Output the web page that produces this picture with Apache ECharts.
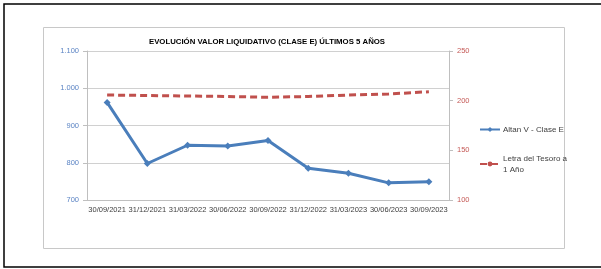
<!DOCTYPE html>
<html><head><meta charset="utf-8">
<script src="https://cdn.jsdelivr.net/npm/echarts@6/dist/echarts.min.js"></script>
<style>html,body{margin:0;padding:0;background:#fff}#c{width:601px;height:269px}</style>
</head><body><div id="c"></div>
<script>
const categories = ['30/09/2021','31/12/2021','31/03/2022','30/06/2022','30/09/2022','31/12/2022','31/03/2023','30/06/2023','30/09/2023'];
const altanValues = [962, 798, 847, 845, 860, 785, 772, 746, 749];
const letraValues = [205.7, 205.2, 204.7, 204.2, 203.4, 204.2, 205.7, 206.7, 209];
const leftTicks = [700, 1100, 100];
const rightTicks = [100, 250, 50];
const seriesNames = ['Altan V - Clase E', 'Letra del Tesoro a\n1 Año'];
const titleText = 'EVOLUCIÓN VALOR LIQUIDATIVO (CLASE E) ÚLTIMOS 5 AÑOS';

const chart = echarts.init(document.getElementById('c'), null, {renderer: 'canvas'});
const F = 'Liberation Sans, Arial, sans-serif';
chart.setOption({
  animation: false,
  title: {text: titleText, left: 262, top: 33, textAlign: 'center',
    textStyle: {fontFamily: F, fontSize: 7.8, fontWeight: 'bold', color: '#000'}},
  graphic: [
    {type: 'rect', shape: {x: 4, y: 4, width: 600, height: 263}, style: {fill: 'none', stroke: '#000', lineWidth: 1.5}, z: -1},
    {type: 'rect', shape: {x: 43.5, y: 27.5, width: 521, height: 221}, style: {fill: 'none', stroke: '#c8c8c8', lineWidth: 1}, z: -1}
  ],
  grid: {left: 87, right: 152, top: 51, bottom: 69},
  legend: {
    orient: 'vertical', left: 479, top: 124, padding: 0, itemGap: 18, itemWidth: 20, itemHeight: 6,
    textStyle: {fontFamily: F, fontSize: 8, color: '#404040', lineHeight: 11, padding: [0, 0, 0, -2]},
    data: seriesNames
  },
  xAxis: {
    type: 'category', data: categories, boundaryGap: true,
    axisLine: {lineStyle: {color: '#bfbfbf'}},
    axisTick: {alignWithLabel: true, length: 4, lineStyle: {color: '#bfbfbf'}},
    axisLabel: {fontFamily: F, fontSize: 7.5, color: '#404040', margin: 6, interval: 0}
  },
  yAxis: [
    {type: 'value', min: leftTicks[0], max: leftTicks[1], interval: leftTicks[2],
     axisLine: {show: true, lineStyle: {color: '#bfbfbf'}},
     axisTick: {show: true, length: 4, lineStyle: {color: '#bfbfbf'}},
     splitLine: {lineStyle: {color: '#d0d0d0'}},
     axisLabel: {fontFamily: F, fontSize: 7.5, color: '#5b84c4', margin: 8,
       formatter: v => v >= 1000 ? (Math.floor(v/1000) + '.' + String(v % 1000).padStart(3,'0')) : String(v)}},
    {type: 'value', min: rightTicks[0], max: rightTicks[1], interval: rightTicks[2], position: 'right',
     axisLine: {show: true, lineStyle: {color: '#bfbfbf'}},
     axisTick: {show: true, length: 4, lineStyle: {color: '#bfbfbf'}},
     splitLine: {show: false},
     axisLabel: {fontFamily: F, fontSize: 7.5, color: '#c55a57', margin: 8}}
  ],
  series: [
    {name: seriesNames[0], type: 'line', yAxisIndex: 0, data: altanValues,
     symbol: 'diamond', symbolSize: 7, lineStyle: {color: '#4a7ebb', width: 3},
     itemStyle: {color: '#4a7ebb'}},
    {name: seriesNames[1], type: 'line', yAxisIndex: 1, data: letraValues,
     symbol: 'none', lineStyle: {color: '#c0504d', width: 3, type: [7, 4]},
     itemStyle: {color: '#c0504d'}}
  ]
});
</script></body></html>
